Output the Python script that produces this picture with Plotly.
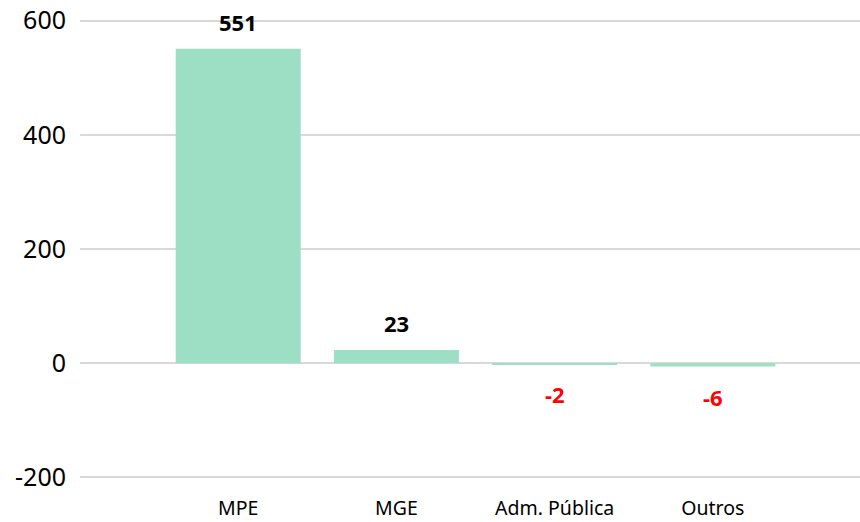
import plotly.graph_objects as go

categorias = ["MPE", "MGE", "Adm. Pública", "Outros"]
saldo = [551, 23, -2, -6]
y_ticks = [-200, 0, 200, 400, 600]

fig = go.Figure()
fig.add_trace(go.Bar(
    x=categorias, y=saldo,
    width=0.79,
    marker=dict(color="#9DDFC4", line=dict(width=0)),
    showlegend=False,
    hoverinfo="x+y",
))

# rotulos de dados: preto acima, vermelho abaixo
for cat, v in zip(categorias, saldo):
    positivo = v >= 0
    fig.add_annotation(
        x=cat, y=v, text="<b>%d</b>" % v, showarrow=False,
        yanchor="bottom" if positivo else "top",
        yshift=10 if positivo else -13,
        font=dict(family="Noto Sans", size=22, color="black" if positivo else "red"),
    )

fig.update_layout(
    width=860, height=522,
    margin=dict(l=80, r=0, t=19, b=43, autoexpand=False),
    plot_bgcolor="white", paper_bgcolor="white",
    font=dict(family="Noto Sans", color="black"),
)
fig.update_xaxes(
    range=[-1.0, 3.93], showgrid=False, showline=False, zeroline=False,
    tickfont=dict(size=19.5), ticks="", ticklabelstandoff=15, automargin=False,
)
fig.update_yaxes(
    range=[-203, 603], tickvals=y_ticks, ticktext=[str(t) for t in y_ticks],
    gridcolor="#D9D9D9", gridwidth=2, zeroline=False, showline=False,
    tickfont=dict(size=25), ticks="", ticklabelstandoff=13, automargin=False,
)

# tira a margem padrao do body para a figura ocupar a janela toda
fig.write_html("out.html", config={"displayModeBar": False},
               post_script="document.body.style.margin='0';")
